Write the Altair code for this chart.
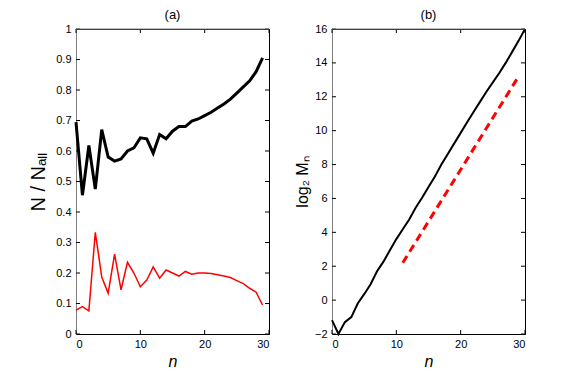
import altair as alt
import pandas as pd

FONT = "Liberation Sans"

# ---- panel (a) data ----
n_a = list(range(30))
frac_black = [0.695, 0.455, 0.618, 0.475, 0.67, 0.58, 0.567, 0.574, 0.60, 0.61,
              0.643, 0.64, 0.593, 0.654, 0.64, 0.665, 0.68, 0.68, 0.698, 0.705,
              0.716, 0.727, 0.741, 0.754, 0.77, 0.79, 0.81, 0.83, 0.86, 0.905]
frac_red = [0.078, 0.09, 0.076, 0.333, 0.187, 0.134, 0.262, 0.145, 0.235, 0.20,
            0.155, 0.177, 0.22, 0.183, 0.21, 0.20, 0.19, 0.205, 0.196, 0.20,
            0.20, 0.198, 0.194, 0.19, 0.185, 0.175, 0.165, 0.15, 0.137, 0.095]

# ---- panel (b) data ----
n_b = list(range(31))
log2M = [-1.18, -2.0, -1.3, -1.0, -0.2, 0.35, 0.94, 1.7, 2.27, 2.94,
         3.6, 4.18, 4.76, 5.45, 6.04, 6.67, 7.3, 8.0, 8.62, 9.25,
         9.87, 10.5, 11.1, 11.7, 12.3, 12.85, 13.4, 14.0, 14.65, 15.3, 16.0]
fit_n = [11, 29]
fit_v = [2.2, 13.2]

x_ticks = [0, 10, 20, 30]
y_ticks_a = [0, 0.1, 0.2, 0.3, 0.4, 0.5, 0.6, 0.7, 0.8, 0.9, 1.0]
y_ticks_b = [-2, 0, 2, 4, 6, 8, 10, 12, 14, 16]

W, H = 193, 305
TICK = 4
GRAY = "#808080"


def frame_and_ticks(xscale, yscale, xaxis, yaxis, yticks):
    xt = pd.DataFrame({"n": x_ticks})
    yt = pd.DataFrame({"v": yticks})
    enc_x = alt.X("n:Q", scale=xscale, axis=xaxis)
    enc_y = alt.Y("v:Q", scale=yscale, axis=yaxis)
    tb = alt.Chart(xt).mark_rule(color="black", strokeWidth=1).encode(
        x=enc_x, y=alt.value(H), y2=alt.value(H - TICK))
    tt = alt.Chart(xt).mark_rule(color="black", strokeWidth=1).encode(
        x=enc_x, y=alt.value(0), y2=alt.value(TICK))
    tl = alt.Chart(yt).mark_rule(color="black", strokeWidth=1).encode(
        y=enc_y, x=alt.value(0), x2=alt.value(TICK))
    tr = alt.Chart(yt).mark_rule(color="black", strokeWidth=1).encode(
        y=enc_y, x=alt.value(W), x2=alt.value(W - TICK))
    top = alt.Chart(pd.DataFrame({"k": [0]})).mark_rule(color=GRAY, strokeWidth=1).encode(
        x=alt.value(0), x2=alt.value(W), y=alt.value(0))
    return [tb, tt, tl, tr, top]


xscale = alt.Scale(domain=[0, 30], nice=False, zero=False)

# ---- panel (a) ----
ys_a = alt.Scale(domain=[0, 1], nice=False)
xaxis_a = alt.Axis(values=x_ticks, title="n", titleFontStyle="italic", titleFontSize=16,
                   titleFontWeight="normal", titlePadding=4, labelPadding=4, format="d")
yaxis_a = alt.Axis(values=y_ticks_a, format="~g", title="N / Nₐₗₗ", titleFontSize=20,
                   titleFontWeight="normal", titlePadding=7, labelPadding=5)

long_a = pd.DataFrame({
    "n": n_a + n_a,
    "v": frac_black + frac_red,
    "s": ["black"] * len(n_a) + ["red"] * len(n_a),
})
base_a = alt.Chart(long_a)
line_black_a = base_a.transform_filter(alt.datum.s == "black").mark_line(
    color="black", strokeWidth=3, strokeJoin="miter").encode(
    x=alt.X("n:Q", scale=xscale, axis=xaxis_a),
    y=alt.Y("v:Q", scale=ys_a, axis=yaxis_a))
line_red_a = base_a.transform_filter(alt.datum.s == "red").mark_line(
    color="red", strokeWidth=1.5).encode(
    x=alt.X("n:Q", scale=xscale, axis=xaxis_a),
    y=alt.Y("v:Q", scale=ys_a, axis=yaxis_a))

panel_a = alt.layer(
    line_red_a, line_black_a,
    *frame_and_ticks(xscale, ys_a, xaxis_a, yaxis_a, y_ticks_a)
).properties(width=W, height=H,
             title=alt.TitleParams("(a)", fontSize=13, font=FONT, fontWeight="normal", offset=1))

# ---- panel (b) ----
ys_b = alt.Scale(domain=[-2, 16], nice=False, zero=False)
xaxis_b = alt.Axis(values=x_ticks, title="n", titleFontStyle="italic", titleFontSize=16,
                   titleFontWeight="normal", titlePadding=4, labelPadding=4, format="d")
yaxis_b = alt.Axis(values=y_ticks_b, format="d", title="log₂ Mₙ", titleFontSize=16,
                   titleFontWeight="normal", titlePadding=4, labelPadding=5)

long_b = pd.DataFrame({
    "n": n_b + fit_n,
    "v": log2M + fit_v,
    "s": ["data"] * len(n_b) + ["fit"] * len(fit_n),
})
base_b = alt.Chart(long_b)
line_black_b = base_b.transform_filter(alt.datum.s == "data").mark_line(
    color="black", strokeWidth=2).encode(
    x=alt.X("n:Q", scale=xscale, axis=xaxis_b),
    y=alt.Y("v:Q", scale=ys_b, axis=yaxis_b))
line_red_b = base_b.transform_filter(alt.datum.s == "fit").mark_line(
    color="red", strokeWidth=3, strokeDash=[8, 5]).encode(
    x=alt.X("n:Q", scale=xscale, axis=xaxis_b),
    y=alt.Y("v:Q", scale=ys_b, axis=yaxis_b))

panel_b = alt.layer(
    line_black_b, line_red_b,
    *frame_and_ticks(xscale, ys_b, xaxis_b, yaxis_b, y_ticks_b)
).properties(width=W, height=H,
             title=alt.TitleParams("(b)", fontSize=13, font=FONT, fontWeight="normal", offset=1))

chart = alt.hconcat(panel_a, panel_b, spacing=63, bounds="flush").properties(
    padding={"left": 20, "top": 0, "right": 5, "bottom": 0}
).configure_view(stroke="black", strokeWidth=1).configure_axis(
    labelFont=FONT, titleFont=FONT, labelFontSize=11, labelColor="black",
    titleColor="black", ticks=False, grid=False
).configure_axisLeft(domainColor=GRAY).configure_axisBottom(domainColor="black")

chart.save("out.html", embed_options={"renderer": "svg", "actions": False})
